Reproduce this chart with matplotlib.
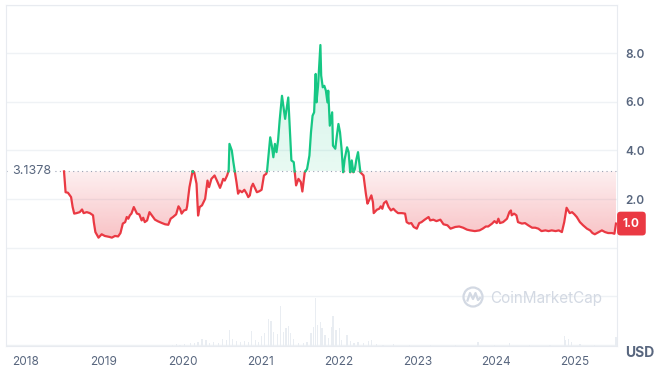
import numpy as np
import matplotlib
matplotlib.use('Agg')
import matplotlib.pyplot as plt
from matplotlib.patches import Circle

plt.rcParams['font.family'] = ['Inter', 'DejaVu Sans']

# price series, x in decimal years
price_t = [2018.49, 2018.51, 2018.54, 2018.58, 2018.60, 2018.62, 2018.65, 2018.69, 2018.72, 2018.74,
           2018.78, 2018.82, 2018.86, 2018.87, 2018.89, 2018.93, 2018.97, 2019.01, 2019.07, 2019.10,
           2019.14, 2019.18, 2019.21, 2019.24, 2019.27, 2019.29, 2019.31, 2019.33, 2019.35, 2019.38,
           2019.42, 2019.45, 2019.48, 2019.50, 2019.52, 2019.55, 2019.58, 2019.61, 2019.65, 2019.69,
           2019.74, 2019.78, 2019.82, 2019.85, 2019.88, 2019.92, 2019.95, 2019.97, 2019.99, 2020.02,
           2020.05, 2020.06, 2020.09, 2020.13, 2020.15, 2020.18, 2020.20, 2020.22, 2020.25, 2020.29,
           2020.32, 2020.34, 2020.37, 2020.41, 2020.44, 2020.48, 2020.50, 2020.52, 2020.54, 2020.57,
           2020.59, 2020.60, 2020.63, 2020.65, 2020.67, 2020.69, 2020.71, 2020.73, 2020.76, 2020.79,
           2020.82, 2020.84, 2020.86, 2020.88, 2020.90, 2020.93, 2020.95, 2020.98, 2021.01, 2021.04,
           2021.07, 2021.08, 2021.12, 2021.14, 2021.16, 2021.18, 2021.20, 2021.22, 2021.24, 2021.27,
           2021.31, 2021.35, 2021.39, 2021.42, 2021.45, 2021.48, 2021.51, 2021.53, 2021.56, 2021.59,
           2021.62, 2021.64, 2021.66, 2021.68, 2021.70, 2021.71, 2021.73, 2021.76, 2021.77, 2021.79,
           2021.81, 2021.83, 2021.85, 2021.86, 2021.88, 2021.91, 2021.92, 2021.95, 2021.97, 2021.99,
           2022.01, 2022.03, 2022.05, 2022.07, 2022.10, 2022.12, 2022.14, 2022.16, 2022.18, 2022.20,
           2022.22, 2022.24, 2022.27, 2022.31, 2022.34, 2022.36, 2022.38, 2022.41, 2022.43, 2022.44,
           2022.48, 2022.51, 2022.53, 2022.55, 2022.57, 2022.60, 2022.63, 2022.66, 2022.69, 2022.72,
           2022.75, 2022.80, 2022.84, 2022.86, 2022.89, 2022.92, 2022.95, 2022.99, 2023.02, 2023.05,
           2023.09, 2023.14, 2023.16, 2023.20, 2023.24, 2023.29, 2023.33, 2023.38, 2023.42, 2023.48,
           2023.53, 2023.58, 2023.63, 2023.67, 2023.73, 2023.79, 2023.83, 2023.87, 2023.90, 2023.95,
           2023.98, 2024.01, 2024.03, 2024.05, 2024.09, 2024.14, 2024.17, 2024.19, 2024.20, 2024.23,
           2024.26, 2024.28, 2024.33, 2024.37, 2024.41, 2024.46, 2024.50, 2024.54, 2024.58, 2024.63,
           2024.67, 2024.71, 2024.76, 2024.80, 2024.84, 2024.87, 2024.90, 2024.92, 2024.94, 2024.97,
           2025.00, 2025.03, 2025.07, 2025.11, 2025.16, 2025.20, 2025.23, 2025.26, 2025.31, 2025.35,
           2025.39, 2025.43, 2025.48, 2025.51, 2025.53]
price = [3.1378, 2.28, 2.26, 2.08, 1.67, 1.40, 1.42, 1.46, 1.57, 1.42,
         1.46, 1.42, 1.33, 1.05, 0.64, 0.41, 0.55, 0.48, 0.44, 0.41,
         0.48, 0.46, 0.60, 0.99, 1.05, 1.26, 1.19, 1.33, 1.40, 1.67,
         1.40, 1.37, 1.12, 1.23, 1.05, 1.12, 1.46, 1.33, 1.15, 1.08,
         1.01, 0.96, 0.94, 1.19, 1.26, 1.37, 1.70, 1.60, 1.40, 1.53,
         1.56, 1.70, 2.49, 3.15, 3.10, 2.63, 1.32, 1.67, 1.74, 2.01,
         2.76, 2.49, 2.83, 2.97, 2.76, 2.46, 2.63, 2.83, 2.76, 2.97,
         3.17, 4.27, 4.00, 3.52, 3.10, 2.69, 2.22, 2.35, 2.28, 2.38,
         2.22, 2.08, 2.15, 2.49, 2.63, 2.42, 2.28, 2.32, 2.38, 2.97,
         3.04, 3.17, 4.54, 4.20, 3.72, 4.27, 3.93, 4.41, 5.23, 6.25,
         5.30, 6.18, 3.59, 3.52, 2.56, 2.83, 2.70, 2.31, 3.10, 3.24,
         3.79, 4.75, 5.43, 5.57, 7.15, 5.98, 6.66, 8.34, 7.08, 6.60,
         6.66, 6.46, 5.98, 6.46, 5.02, 5.57, 4.20, 4.07, 4.61, 5.09,
         4.75, 4.07, 3.10, 3.65, 4.13, 3.93, 3.10, 3.59, 3.10, 3.24,
         3.65, 3.93, 3.10, 2.97, 2.22, 1.81, 1.94, 2.15, 1.87, 1.42,
         1.56, 1.60, 1.70, 1.60, 1.83, 1.91, 1.67, 1.53, 1.60, 1.50,
         1.42, 1.42, 1.40, 1.05, 0.99, 1.01, 0.85, 0.78, 1.01, 1.05,
         1.15, 1.26, 1.12, 1.15, 1.09, 1.15, 0.96, 0.92, 0.78, 0.85,
         0.87, 0.82, 0.74, 0.71, 0.68, 0.71, 0.78, 0.87, 0.87, 0.99,
         1.09, 1.01, 1.19, 1.01, 1.05, 1.19, 1.46, 1.53, 1.33, 1.40,
         1.33, 1.05, 0.99, 1.01, 0.92, 0.82, 0.82, 0.78, 0.68, 0.71,
         0.68, 0.71, 0.68, 0.71, 0.64, 1.05, 1.64, 1.53, 1.42, 1.46,
         1.37, 1.26, 1.05, 0.92, 0.78, 0.71, 0.60, 0.55, 0.64, 0.71,
         0.64, 0.60, 0.60, 0.57, 0.99]

# volume bars (arbitrary units)
vol_t = [2019.87, 2019.92, 2019.97, 2020.03, 2020.10, 2020.15, 2020.20, 2020.25, 2020.30, 2020.35,
         2020.40, 2020.46, 2020.51, 2020.56, 2020.60, 2020.64, 2020.69, 2020.74, 2020.79, 2020.84,
         2020.88, 2020.93, 2020.97, 2021.01, 2021.05, 2021.10, 2021.13, 2021.16, 2021.21, 2021.25,
         2021.29, 2021.32, 2021.35, 2021.38, 2021.42, 2021.48, 2021.54, 2021.59, 2021.64, 2021.67,
         2021.70, 2021.72, 2021.76, 2021.78, 2021.82, 2021.86, 2021.90, 2021.92, 2021.96, 2022.00,
         2022.03, 2022.10, 2022.14, 2022.19, 2022.24, 2022.31, 2022.37, 2022.41, 2022.48, 2022.56,
         2022.69, 2022.90, 2023.16, 2023.48, 2023.77, 2023.98, 2024.17, 2024.43, 2024.69, 2024.87,
         2024.89, 2024.92, 2024.96, 2025.07, 2025.26, 2025.53]
volume = [1.0, 1.5, 1.0, 2.0, 2.5, 3.0, 4.0, 6.7, 6.0, 3.3,
          4.3, 2.7, 6.7, 6.0, 16.0, 6.7, 5.3, 4.3, 5.0, 4.3,
          15.0, 6.0, 4.3, 10.0, 12.7, 27.0, 25.3, 14.3, 12.0, 40.3,
          14.3, 17.7, 20.0, 12.7, 6.7, 2.7, 2.7, 4.3, 13.3, 18.7,
          47.7, 21.0, 23.7, 17.7, 11.0, 7.7, 19.3, 30.0, 16.0, 17.7,
          6.0, 11.0, 5.3, 3.3, 4.3, 3.3, 5.3, 6.0, 2.0, 1.3,
          1.7, 1.0, 1.0, 1.0, 4.0, 1.0, 3.0, 1.0, 1.0, 10.0,
          6.0, 7.0, 4.0, 1.5, 1.0, 8.7]

years = [2018, 2019, 2020, 2021, 2022, 2023, 2024, 2025]
yticks = [-4, -2, 0, 2, 4, 6, 8, 10]

RED = '#ea3943'
GREEN = '#16c784'
GRAY = '#58667e'
GRID = '#eff2f5'

base = price[0]

# split the line where it crosses the base price
tt, pp = [price_t[0]], [price[0]]
for i in range(1, len(price)):
    a, b = price[i-1] - base, price[i] - base
    if a * b < 0:
        f = a / (a - b)
        tt.append(price_t[i-1] + f * (price_t[i] - price_t[i-1]))
        pp.append(base)
    tt.append(price_t[i])
    pp.append(price[i])
tt = np.array(tt)
pp = np.array(pp)

fig = plt.figure(figsize=(6.6, 3.71), dpi=100)
ax = fig.add_axes([6/660, 25/371, 611/660, 341.3/371])

xmin, xmax = 2017.75, 2025.543
ymin, ymax = -4.05, 9.97

# gradient fills clipped to the areas
red_poly = ax.fill_between(tt, np.minimum(pp, base), base, facecolor='none', edgecolor='none')
grn_poly = ax.fill_between(tt, base, np.maximum(pp, base), facecolor='none', edgecolor='none')

def gradient(c, a_top, a_bot, y0, y1, poly):
    rgb = matplotlib.colors.to_rgb(c)
    n = 256
    arr = np.zeros((n, 1, 4))
    arr[:, 0, :3] = rgb
    arr[:, 0, 3] = np.linspace(a_top, a_bot, n)
    im = ax.imshow(arr, extent=[xmin, xmax, y0, y1], origin='upper', aspect='auto',
                   interpolation='bilinear', zorder=1)
    im.set_clip_path(poly.get_paths()[0], transform=ax.transData)

gradient(RED, 0.08, 0.34, 0, base, red_poly)
gradient(GREEN, 0.20, 0.10, base, 9, grn_poly)

up = np.where(pp >= base, pp, np.nan)
dn = np.where(pp <= base, pp, np.nan)
ax.plot(tt, dn, color=RED, lw=1.6, zorder=3, solid_joinstyle='round')
ax.plot(tt, up, color=GREEN, lw=1.6, zorder=3, solid_joinstyle='round')

ax.axhline(base, color='#9aa2b4', lw=0.8, ls=(0, (1, 3)), zorder=2)

# volume in the lower band
vax = ax.twinx()
vax.bar(vol_t, volume, width=0.016, color='#e9edf2', zorder=0)
vax.set_ylim(0, max(volume) * 7.15)
vax.set_yticks([])
for s in vax.spines.values():
    s.set_visible(False)

ax.set_xlim(xmin, xmax)
ax.set_ylim(ymin, ymax)
ax.set_yticks(yticks)
ax.set_yticklabels([f'{v:.1f}' if 2 <= v <= 8 else '' for v in yticks])
ax.yaxis.tick_right()
ax.tick_params(axis='y', length=0, pad=6, labelsize=8.5, labelcolor=GRAY)
for lab in ax.get_yticklabels():
    lab.set_fontweight('semibold')
ax.set_xticks(years)
ax.set_xticklabels([str(y) for y in years])
ax.tick_params(axis='x', length=0, pad=7, labelsize=8.5, labelcolor=GRAY)
ax.grid(axis='y', color=GRID, lw=1)
ax.set_axisbelow(True)
for s in ax.spines.values():
    s.set_color('#e8ebf0')
    s.set_linewidth(0.8)

# base price label
ax.text(0.0098, base, f'{base:.4f}', transform=ax.get_yaxis_transform(), ha='left', va='center',
        fontsize=9, color=GRAY, zorder=4,
        bbox=dict(boxstyle='square,pad=0.15', fc='white', ec='none'))

# current price tag
ax.text(1.0098, price[-1], f'{price[-1]:.1f}', transform=ax.get_yaxis_transform(), ha='left', va='center',
        fontsize=8.5, color='white', fontweight='bold', clip_on=False, zorder=5,
        bbox=dict(boxstyle='round,pad=0.5,rounding_size=0.3', fc=RED, ec='none'))

fig.text(625/660, 1 - 353/371, 'USD', fontsize=10, fontweight='bold', color=GRAY, ha='left', va='center')

# watermark
lax = fig.add_axes([461/660, 1 - 309/371, 24/660, 24/371])
lax.set_xlim(-1.2, 1.2)
lax.set_ylim(-1.2, 1.2)
lax.set_aspect('equal')
lax.axis('off')
lax.add_patch(Circle((0, 0), 0.95, fill=False, ec='#d3d9e3', lw=1.6))
lax.plot([-0.55, -0.3, 0.0, 0.25, 0.5, 0.7], [-0.35, 0.4, -0.2, 0.4, -0.3, -0.1],
         color='#d3d9e3', lw=1.6, solid_joinstyle='round')
fig.text(490/660, 1 - 298/371, 'CoinMarketCap', fontsize=11, color='#d3d9e3', ha='left', va='center')

fig.savefig('out.png', dpi=100)
